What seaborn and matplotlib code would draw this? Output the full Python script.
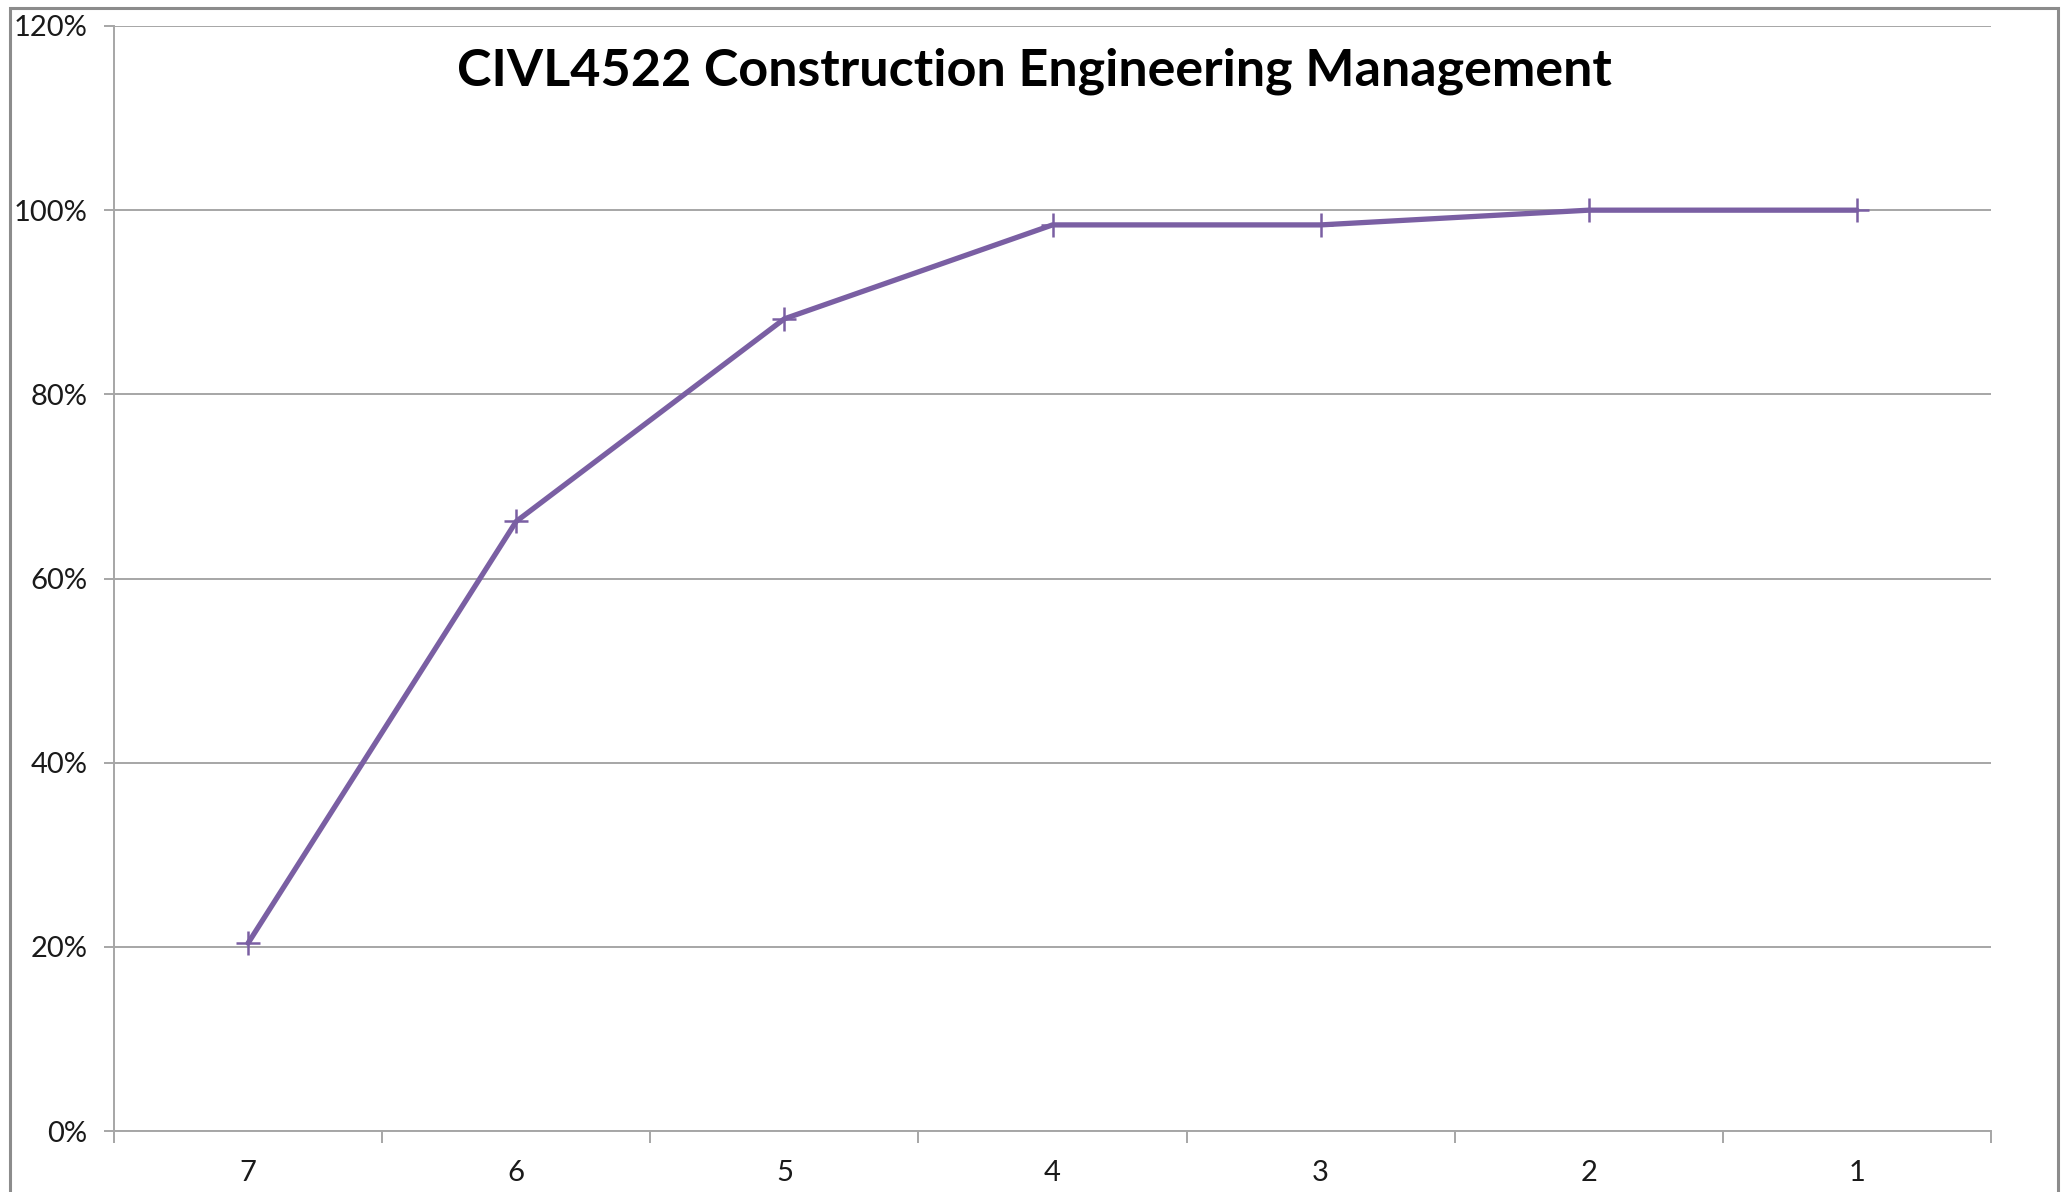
import numpy as np
import pandas as pd
import seaborn as sns
import matplotlib.pyplot as plt
from matplotlib.patches import Rectangle
from matplotlib.ticker import FuncFormatter, FixedLocator

# data
grades = ['7', '6', '5', '4', '3', '2', '1']
cumulative = [0.204, 0.662, 0.882, 0.984, 0.984, 1.0, 1.0]

title = 'CIVL4522 Construction Engineering Management'
line_color = '#7A5FA3'
grid_color = '#A6A6A6'

sns.set_theme(style='white')
plt.rcParams['font.family'] = ['Lato', 'DejaVu Sans']

df = pd.DataFrame({'grade': grades, 'cum': cumulative})
df['pos'] = np.arange(len(grades))

fig = plt.figure(figsize=(20.67, 11.92), dpi=100)
W, H = 2067, 1192
# plot area in pixels: left 114, right 1991, top 26, bottom 1131
ax = fig.add_axes([114 / W, 1 - 1131 / H, (1991 - 114) / W, (1131 - 26) / H])

sns.lineplot(data=df, x='pos', y='cum', ax=ax, color=line_color, linewidth=3.8,
             marker='+', markersize=17, markeredgewidth=1.8, markeredgecolor=line_color)

ax.set_xlim(-0.5, len(grades) - 0.5)
ax.set_ylim(0, 1.2)
ax.set_yticks(np.arange(0, 1.21, 0.2))
ax.yaxis.set_major_formatter(FuncFormatter(lambda v, _: f'{v * 100:.0f}%'))
ax.set_xticks(df['pos'])
ax.set_xticklabels(grades)
ax.xaxis.set_minor_locator(FixedLocator(np.arange(-0.5, len(grades), 1.0)))
ax.set_xlabel('')
ax.set_ylabel('')

ax.grid(axis='y', color=grid_color, linewidth=1.4)
ax.set_axisbelow(True)
for side in ['top', 'right']:
    ax.spines[side].set_visible(False)
for side in ['left', 'bottom']:
    ax.spines[side].set_color(grid_color)
    ax.spines[side].set_linewidth(1.4)

ax.tick_params(axis='y', which='major', length=7, width=1.4, color=grid_color,
               direction='out', left=True, pad=12, labelsize=21, labelcolor='#1a1a1a')
ax.tick_params(axis='x', which='major', length=0, pad=21, labelsize=21, labelcolor='#1a1a1a')
ax.tick_params(axis='x', which='minor', length=8.5, width=1.4, color=grid_color,
               direction='out', bottom=True)

fig.text(1034 / W, 1 - 71 / H, title, ha='center', va='center',
         fontsize=37.5, fontweight='bold', color='black')

# outer chart border (bottom edge is cut off in the picture)
fig.patches.append(Rectangle((10 / W, -0.05), (2058 - 10) / W, 1.05 - 8 / H,
                             transform=fig.transFigure, fill=False,
                             edgecolor='#8C8C8C', linewidth=2.2))

fig.savefig('out.png', dpi=100)
